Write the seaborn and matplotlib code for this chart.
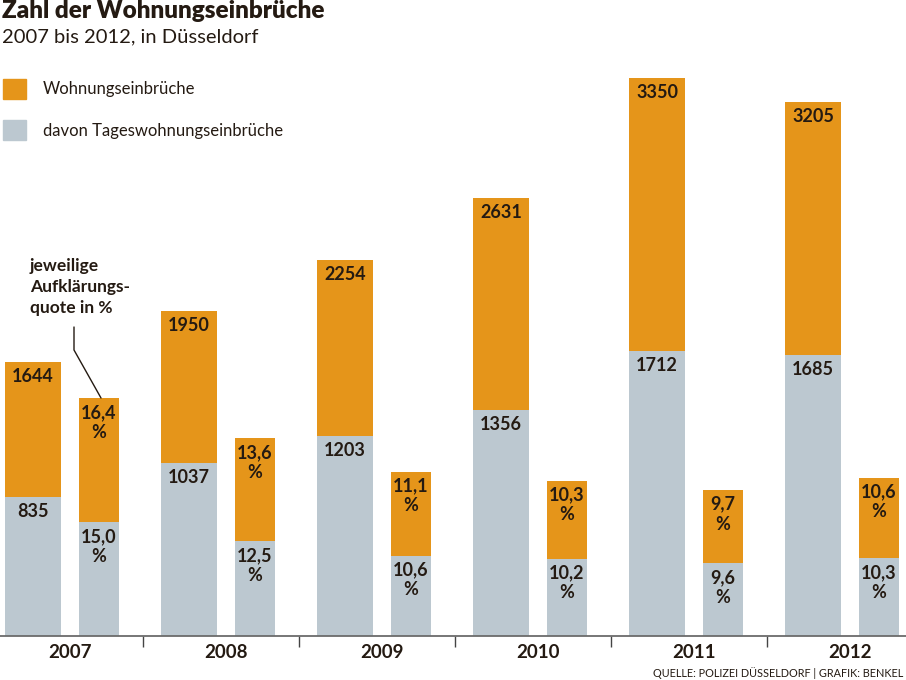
import matplotlib
matplotlib.use("Agg")
import matplotlib.pyplot as plt
from matplotlib.patches import Patch
import numpy as np
import pandas as pd
import seaborn as sns

# data
years = ["2007", "2008", "2009", "2010", "2011", "2012"]
einbrueche = [1644, 1950, 2254, 2631, 3350, 3205]
tages_einbrueche = [835, 1037, 1203, 1356, 1712, 1685]
quote_gesamt = [16.4, 13.6, 11.1, 10.3, 9.7, 10.6]
quote_tages = [15.0, 12.5, 10.6, 10.2, 9.6, 10.3]

ORANGE = "#E5951A"
GREY = "#BCC8D0"
INK = "#241a12"
FONT = "Lato"

sns.set_theme(style="white")
plt.rcParams["font.family"] = [FONT, "DejaVu Sans"]

W, H = 906, 680
fig = plt.figure(figsize=(W / 100, H / 100), dpi=100)
base = 636  # baseline in pixels from top
ax = fig.add_axes([0, (H - base) / H, 1, base / H])
ax2 = ax.twinx()

idx = np.arange(len(years))
df = pd.DataFrame({
    "year": years,
    "total": einbrueche,
    "tag": tages_einbrueche,
    "q_tag": quote_tages,
    "q_sum": np.array(quote_tages) + np.array(quote_gesamt),
})
df["x_left"] = idx - 0.237
df["x_right"] = idx + 0.186

# left bars: total with daytime share overlaid
sns.barplot(data=df, x="x_left", y="total", native_scale=True, width=0.365,
            color=ORANGE, saturation=1, linewidth=0, ax=ax)
sns.barplot(data=df, x="x_left", y="tag", native_scale=True, width=0.365,
            color=GREY, saturation=1, linewidth=0, ax=ax)
# right bars: clearance rates stacked
sns.barplot(data=df, x="x_right", y="q_sum", native_scale=True, width=0.256,
            color=ORANGE, saturation=1, linewidth=0, ax=ax2)
sns.barplot(data=df, x="x_right", y="q_tag", native_scale=True, width=0.256,
            color=GREY, saturation=1, linewidth=0, ax=ax2)

ax.set_ylim(0, base / 0.1666)
ax2.set_ylim(0, base / 7.58)
ax.set_xlim(-70 / 156, (W - 70) / 156)

lab = dict(ha="center", va="top", textcoords="offset pixels", color=INK,
           fontsize=13, fontweight="bold", family=FONT)
pct = lambda v: f"{v:.1f}".replace(".", ",") + "\n%"
for i, r in df.iterrows():
    ax.annotate(f"{r.total}", (r.x_left, r.total), xytext=(0, -6), **lab)
    ax.annotate(f"{r.tag}", (r.x_left, r.tag), xytext=(0, -6), **lab)
    ax2.annotate(pct(quote_gesamt[i]), (r.x_right, r.q_sum), xytext=(0, -6),
                 linespacing=1.2, **lab)
    ax2.annotate(pct(r.q_tag), (r.x_right, r.q_tag), xytext=(0, -6),
                 linespacing=1.2, **lab)

# axis styling: baseline, separator ticks, year labels
for a in (ax, ax2):
    for s in a.spines.values():
        s.set_visible(False)
    a.set_ylabel("")
    a.set_xlabel("")
    a.set_yticks([])
ax2.spines["bottom"].set_visible(True)
ax2.spines["bottom"].set_color("#6b6b6b")
ax2.spines["bottom"].set_linewidth(1.3)
ax2.spines["bottom"].set_zorder(5)
ax.set_xticks(idx[:-1] + 0.468)
ax.set_xticklabels([])
ax.tick_params(axis="x", which="major", direction="out", length=8,
               width=1, color="#444444", bottom=True)
ax.set_xticks(idx, minor=True)
ax.set_xticklabels(years, minor=True, fontsize=13.5, fontweight="bold",
                   color=INK, family=FONT)
ax.tick_params(axis="x", which="minor", length=0, pad=6, bottom=True)
ax2.tick_params(axis="x", which="both", bottom=False, top=False,
                labelbottom=False, labeltop=False)

# titles
fig.text(0.002, 1 - 0 / H, "Zahl der Wohnungseinbrüche", ha="left", va="top",
         fontsize=17.5, fontweight="heavy", color=INK, family=FONT)
fig.text(0.002, 1 - 28 / H, "2007 bis 2012, in Düsseldorf", ha="left", va="top",
         fontsize=14.5, color=INK, family=FONT)

leg = fig.legend(handles=[Patch(color=ORANGE, label="Wohnungseinbrüche"),
                          Patch(color=GREY, label="davon Tageswohnungseinbrüche")],
                 loc="upper left", bbox_to_anchor=(0.003, 1 - 79 / H), frameon=False,
                 fontsize=12, handlelength=1.4, handleheight=1.45,
                 handletextpad=1.0, labelspacing=1.3, borderpad=0,
                 borderaxespad=0)
for t in leg.get_texts():
    t.set_color(INK)

# annotation for the clearance rate
fig.text(30 / W, 1 - 258 / H, "jeweilige\nAufklärungs-\nquote in %", ha="left",
         va="top", fontsize=12.5, fontweight="bold", color=INK, family=FONT,
         linespacing=1.4)
fig.add_artist(plt.Line2D(np.array([74, 74, 101]) / W,
                          1 - np.array([327, 350, 398]) / H,
                          transform=fig.transFigure, color=INK, lw=1))

fig.text(1 - 3 / W, 1 - 673 / H, "QUELLE: POLIZEI DÜSSELDORF | GRAFIK: BENKEL",
         ha="right", va="center", fontsize=7.8, color=INK, family=FONT)

fig.savefig("out.png", dpi=100)
